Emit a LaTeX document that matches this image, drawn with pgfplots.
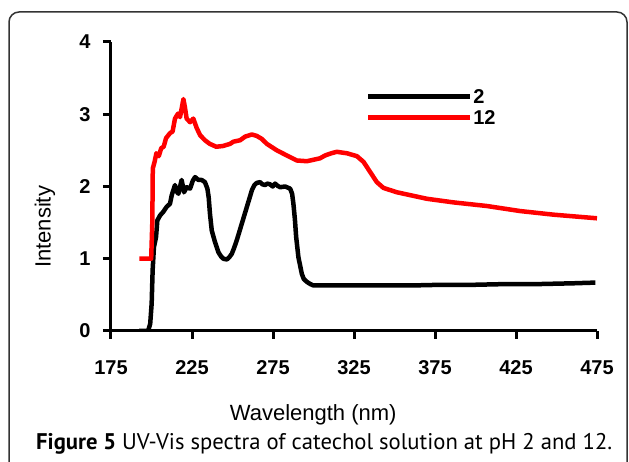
\documentclass[border=0pt]{standalone}
\usepackage{fontspec}
\setmainfont{Liberation Sans}
\newfontfamily\capfont{PT Sans}
\usepackage{pgfplots}
\pgfplotsset{compat=1.18}

\pgfplotstableread{
wl int
192.3 0.00
197.9 0.00
199.2 0.10
200.1 0.38
200.7 0.84
201.5 1.16
202.8 1.30
203.6 1.53
205.3 1.60
207.3 1.65
209.4 1.72
211.4 1.76
212.5 1.88
213.5 1.95
214.5 2.02
215.5 1.93
216.6 1.90
218.6 2.09
220.1 1.92
221.7 1.99
223.8 1.97
225.5 2.08
226.9 2.13
229.0 2.09
231.0 2.09
233.0 2.06
234.5 1.97
235.3 1.85
236.1 1.62
237.2 1.39
239.2 1.23
241.3 1.09
243.0 1.03
244.4 1.00
246.5 0.99
248.0 1.02
249.6 1.07
251.0 1.15
252.7 1.26
255.8 1.49
258.9 1.72
262.0 1.95
263.5 2.02
265.0 2.05
267.0 2.06
268.5 2.03
270.1 2.02
271.5 2.04
273.2 2.03
274.8 2.00
276.3 2.04
277.8 2.01
279.4 1.99
282.5 2.00
285.6 1.97
286.8 1.90
287.6 1.76
288.5 1.55
289.3 1.30
290.7 1.02
292.8 0.79
294.0 0.72
295.9 0.68
298.0 0.65
300.0 0.63
304.1 0.63
320.0 0.63
340.0 0.63
360.0 0.63
380.0 0.64
400.0 0.64
420.0 0.65
440.0 0.65
460.0 0.66
474.0 0.67
}\phtwo

\pgfplotstableread{
wl int
192.5 1.00
199.8 1.00
200.5 1.50
200.8 2.25
202.0 2.35
203.0 2.46
204.5 2.42
206.0 2.53
207.5 2.55
209.0 2.67
211.5 2.74
213.0 2.76
214.5 2.94
216.4 3.01
217.6 2.96
218.8 3.10
219.7 3.21
220.6 3.10
221.7 2.94
223.8 2.89
225.8 2.94
227.9 2.81
230.0 2.71
233.0 2.64
236.0 2.59
240.0 2.55
244.0 2.56
248.5 2.59
250.5 2.62
254.7 2.64
257.8 2.69
261.9 2.72
265.0 2.70
268.0 2.66
271.2 2.59
277.4 2.50
283.5 2.43
289.7 2.36
295.9 2.35
300.0 2.37
304.0 2.39
307.2 2.43
311.0 2.46
314.4 2.48
320.6 2.46
326.8 2.42
330.9 2.34
335.0 2.20
339.1 2.06
343.2 1.98
351.5 1.92
359.7 1.88
370.0 1.83
386.4 1.78
407.0 1.73
427.6 1.66
448.2 1.61
475.0 1.56
}\phtwelve

\begin{document}
\begin{tikzpicture}[x=1pt,y=1pt]
\useasboundingbox (0,0) rectangle (629,462);
\begin{scope}
\clip (0,0) rectangle (629,462);
\draw[rounded corners=10pt, line width=1.5pt, black!80] (9,-40) rectangle (627,450);
\end{scope}
\begin{axis}[at={(111pt,131pt)}, anchor=south west, scale only axis,
 width=486pt, height=289pt,
 xmin=175, xmax=475, ymin=0, ymax=4,
 axis x line*=bottom, axis y line*=left,
 axis line style={line width=3pt},
 xtick={175,225,...,475}, ytick={0,1,2,3,4},
 tick align=outside, major tick length=8pt,
 tick style={line width=3pt, black},
 /pgf/number format/assume math mode=true,
 tick label style={font=\fontsize{20}{20}\selectfont\bfseries},
 xticklabel style={yshift=-18pt},
 yticklabel style={xshift=-9pt},
 xlabel={Wavelength (nm)}, ylabel={Intensity},
 label style={font=\fontsize{22}{22}\selectfont},
 xlabel style={at={(axis description cs:0.416,-0.29)}, anchor=center},
 ylabel style={at={(axis description cs:-0.136,0.36)}, anchor=center},
 legend style={draw=none, fill=none, at={(axis description cs:0.524,0.84)},
   anchor=north west, inner sep=0pt, row sep=5pt, column sep=0pt,
   font=\fontsize{20}{20}\selectfont\bfseries,
   nodes={inner sep=1pt, text height=14pt, text depth=0pt}},
 legend cell align=left,
 legend image code/.code={\draw[#1] (0pt,0pt) -- (102pt,0pt);},
 every axis plot/.append style={line width=4.5pt, line join=round}]
\addplot[black] table[x=wl,y=int] {\phtwo};
\addlegendentry{2}
\addplot[red] table[x=wl,y=int] {\phtwelve};
\addlegendentry{12}
\end{axis}
\node[anchor=west, inner sep=0pt] at (36,18) {\resizebox{576pt}{!}{\capfont\fontsize{19}{19}\selectfont\textbf{Figure 5} UV-Vis spectra of catechol solution at pH 2 and 12.}};
\end{tikzpicture}
\end{document}
